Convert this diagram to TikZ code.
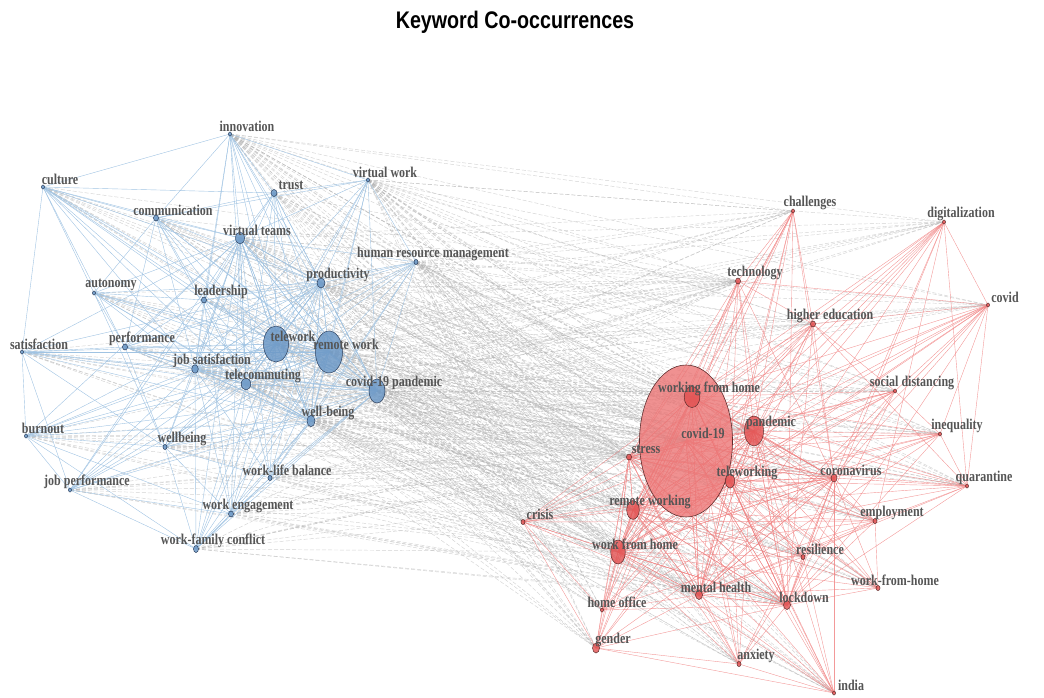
\documentclass[tikz,border=0pt]{standalone}
\usepackage{fontspec}
\setmainfont{Liberation Serif}
\newfontfamily\titlefont{Liberation Sans}
\usepackage{graphicx}
\usepackage{tikz}
\usetikzlibrary{shapes.geometric}
\usetikzlibrary{backgrounds}

\definecolor{bluefill}{RGB}{108,152,198}
\definecolor{bluedark}{RGB}{45,65,95}
\definecolor{redfill}{RGB}{226,80,80}
\definecolor{bigred}{RGB}{236,118,118}
\definecolor{reddark}{RGB}{95,45,45}
\definecolor{blueedge}{RGB}{160,195,226}
\definecolor{rededge}{RGB}{240,128,128}
\definecolor{grayedge}{RGB}{175,175,175}
\definecolor{lblgray}{RGB}{85,85,85}

\newcommand{\kw}[1]{\scalebox{1}[1.25]{#1}}

\begin{document}
\begin{tikzpicture}[x=1pt, y=-1pt,
                          bluenode/.style={ellipse, draw=bluedark, fill=bluefill, fill opacity=0.85, inner sep=0pt, line width=0.5pt},
                          rednode/.style={ellipse, draw=reddark, fill=redfill, fill opacity=0.8, inner sep=0pt, line width=0.5pt},
                          bignode/.style={ellipse, draw=reddark, fill=bigred, fill opacity=0.8, inner sep=0pt, line width=0.6pt},
                          sz/.style 2 args={minimum width=2*#1pt, minimum height=2*#2pt},
                          lbl/.style={font=\bfseries\fontsize{12}{13}\selectfont, text=lblgray, inner sep=0pt, xshift=17pt, yshift=8pt},
                          blueline/.style={blueedge, line width=0.4pt},
                          redline/.style={rededge, line width=0.4pt, draw opacity=0.8},
                          grayline/.style={grayedge, line width=0.45pt, dash pattern=on 4pt off 2pt, draw opacity=0.55},
                      ]
                      \useasboundingbox (0,0) rectangle (1044,697);

                      % Title
                      \node[font=\titlefont\bfseries\fontsize{24}{28}\selectfont] (title) at (515,22) {\scalebox{0.82}[1]{Keyword Co-occurrences}};

                      % Nodes (blue cluster)
                      \node[bluenode, sz={1.5}{2}]     (innovation)        at (230,134) [label={[lbl]center:\kw{innovation}}] {};
                      \node[bluenode, sz={1.5}{2}]     (culture)           at (43,187)  [label={[lbl]center:\kw{culture}}] {};
                      \node[bluenode, sz={3}{3.5}]     (trust)             at (274,193) [label={[lbl]center:\kw{trust}}] {};
                      \node[bluenode, sz={1.5}{2}]     (virtual_work)      at (368,180) [label={[lbl]center:\kw{virtual work}}] {};
                      \node[bluenode, sz={2.5}{3}]     (communication)     at (156,218) [label={[lbl]center:\kw{communication}}] {};
                      \node[bluenode, sz={4.5}{6}]     (virtual_teams)     at (240,238) [label={[lbl]center:\kw{virtual teams}}] {};
                      \node[bluenode, sz={2}{2.5}]     (hrm)               at (416,262) [label={[lbl]center:\kw{human resource management}}] {};
                      \node[bluenode, sz={4}{5}]       (productivity)      at (321,283) [label={[lbl]center:\kw{productivity}}] {};
                      \node[bluenode, sz={1.5}{2}]     (autonomy)          at (94,293)  [label={[lbl]center:\kw{autonomy}}] {};
                      \node[bluenode, sz={2.5}{3}]     (leadership)        at (204,300) [label={[lbl]center:\kw{leadership}}] {};
                      \node[bluenode, sz={2.5}{3}]     (performance)       at (125,347) [label={[lbl]center:\kw{performance}}] {};
                      \node[bluenode, sz={1.5}{2}]     (satisfaction)      at (22,352)  [label={[lbl]center:\kw{satisfaction}}] {};
                      \node[bluenode, sz={12.5}{18}]   (telework)          at (276,344) [label={[lbl]center:\kw{telework}}] {};
                      \node[bluenode, sz={13.5}{21}]   (remote_work)       at (329,352) [label={[lbl]center:\kw{remote work}}] {};
                      \node[bluenode, sz={3.3}{4.2}]   (job_satisfaction)  at (195,369) [label={[lbl]center:\kw{job satisfaction}}] {};
                      \node[bluenode, sz={4.7}{6}]     (telecommuting)     at (246,384) [label={[lbl]center:\kw{telecommuting}}] {};
                      \node[bluenode, sz={8}{12}]      (covid_pandemic)    at (377,391) [label={[lbl]center:\kw{covid-19 pandemic}}] {};
                      \node[bluenode, sz={4}{5.7}]     (well_being)        at (311,421) [label={[lbl]center:\kw{well-being}}] {};
                      \node[bluenode, sz={1.5}{2}]     (burnout)           at (26,436)  [label={[lbl]center:\kw{burnout}}] {};
                      \node[bluenode, sz={2}{2.5}]     (wellbeing)         at (165,447) [label={[lbl]center:\kw{wellbeing}}] {};
                      \node[bluenode, sz={2}{2.5}]     (work_life)         at (270,478) [label={[lbl]center:\kw{work-life balance}}] {};
                      \node[bluenode, sz={1.5}{2}]     (job_performance)   at (70,490)  [label={[lbl]center:\kw{job performance}}] {};
                      \node[bluenode, sz={2.5}{3}]     (work_engagement)   at (231,514) [label={[lbl]center:\kw{work engagement}}] {};
                      \node[bluenode, sz={2.5}{3.5}]   (work_family)       at (196,549) [label={[lbl]center:\kw{work-family conflict}}] {};

                      % Nodes (red cluster)
                      \node[bignode, sz={46.5}{76}]    (covid_19)          at (686,441) {};
                      \node[rednode, sz={1.5}{2}]      (challenges)        at (793,211) [label={[lbl]center:\kw{challenges}}] {};
                      \node[rednode, sz={1.5}{2}]      (digitalization)    at (944,222) [label={[lbl]center:\kw{digitalization}}] {};
                      \node[rednode, sz={2.5}{3}]      (technology)        at (738,281) [label={[lbl]center:\kw{technology}}] {};
                      \node[rednode, sz={1.5}{2}]      (covid)             at (988,305) [label={[lbl]center:\kw{covid}}] {};
                      \node[rednode, sz={2.5}{3}]      (higher_education)  at (813,324) [label={[lbl]center:\kw{higher education}}] {};
                      \node[rednode, sz={7.8}{10.5}]   (working_from_home) at (692,397) [label={[lbl]center:\kw{working from home}}] {};
                      \node[rednode, sz={1.5}{2}]      (social_distancing) at (895,391) [label={[lbl]center:\kw{social distancing}}] {};
                      \node[rednode, sz={9.5}{15}]     (pandemic)          at (754,431) [label={[lbl]center:\kw{pandemic}}] {};
                      \node[rednode, sz={1.5}{2}]      (inequality)        at (940,434) [label={[lbl]center:\kw{inequality}}] {};
                      \node[rednode, sz={2.5}{3}]      (stress)            at (629,457) [label={[lbl]center:\kw{stress}}] {};
                      \node[rednode, sz={4.7}{7}]      (teleworking)       at (730,481) [label={[lbl]center:\kw{teleworking}}] {};
                      \node[rednode, sz={3}{4}]        (coronavirus)       at (834,478) [label={[lbl]center:\kw{coronavirus}}] {};
                      \node[rednode, sz={1.5}{2}]      (quarantine)        at (967,486) [label={[lbl]center:\kw{quarantine}}] {};
                      \node[rednode, sz={6.3}{9.3}]    (remote_working)    at (633,510) [label={[lbl]center:\kw{remote working}}] {};
                      \node[rednode, sz={2}{2.5}]      (crisis)            at (523,522) [label={[lbl]center:\kw{crisis}}] {};
                      \node[rednode, sz={2}{2.5}]      (employment)        at (875,521) [label={[lbl]center:\kw{employment}}] {};
                      \node[rednode, sz={7.3}{12}]     (work_from_home)    at (618,552) [label={[lbl]center:\kw{work from home}}] {};
                      \node[rednode, sz={2}{2.5}]      (resilience)        at (803,557) [label={[lbl]center:\kw{resilience}}] {};
                      \node[rednode, sz={2}{2.5}]      (wfh_hyphen)        at (878,588) [label={[lbl]center:\kw{work-from-home}}] {};
                      \node[rednode, sz={3.5}{4.5}]    (mental_health)     at (699,595) [label={[lbl]center:\kw{mental health}}] {};
                      \node[rednode, sz={3.5}{4.5}]    (lockdown)          at (787,605) [label={[lbl]center:\kw{lockdown}}] {};
                      \node[rednode, sz={1.5}{2}]      (home_office)       at (602,610) [label={[lbl, xshift=-2pt]center:\kw{home office}}] {};
                      \node[rednode, sz={3.5}{5}]      (gender)            at (596,648) [label={[lbl]center:\kw{gender}}] {};
                      \node[rednode, sz={2}{2.5}]      (anxiety)           at (739,664) [label={[lbl]center:\kw{anxiety}}] {};
                      \node[rednode, sz={1.5}{2}]      (india)             at (834,693) [label={[lbl]center:\kw{india}}] {};
                      \node[lbl] (covid_19_label) at (covid_19.center) {\kw{covid-19}};

                      %Lines
                      \begin{pgfonlayer}{background}
                      % between the clusters
                      \foreach \a in {innovation,culture,trust,virtual_work,communication,virtual_teams,hrm,productivity,autonomy,leadership,performance,satisfaction,telework,remote_work,job_satisfaction,telecommuting,covid_pandemic,well_being,burnout,wellbeing,work_life,job_performance,work_engagement,work_family}
                        \foreach \b in {covid_19,working_from_home,pandemic,teleworking,remote_working,work_from_home,stress,lockdown,mental_health,technology}
                          \draw[grayline] (\a.center) -- (\b.center);
                      \foreach \a in {innovation,virtual_work,virtual_teams,hrm,productivity,telework,remote_work,telecommuting,covid_pandemic,well_being,job_satisfaction}
                        \foreach \b in {challenges,digitalization,covid,higher_education,social_distancing,inequality,coronavirus,quarantine,crisis,employment,resilience,wfh_hyphen,home_office,gender,anxiety,india}
                          \draw[grayline] (\a.center) -- (\b.center);

                      % blue cluster
                      \foreach \a in {innovation,culture,trust,virtual_work,communication,virtual_teams,hrm,productivity,autonomy,leadership,performance,satisfaction,telework,remote_work,job_satisfaction,telecommuting,covid_pandemic,well_being,burnout,wellbeing,work_life,job_performance,work_engagement,work_family}
                        \foreach \b in {telework,remote_work,covid_pandemic,virtual_teams,telecommuting,job_satisfaction,productivity,well_being}
                          \draw[blueline] (\a.center) -- (\b.center);
                      \foreach \a/\b in {innovation/culture,innovation/trust,innovation/virtual_work,innovation/communication,innovation/leadership,
                                         culture/trust,culture/communication,culture/autonomy,culture/satisfaction,culture/performance,culture/leadership,
                                         trust/virtual_work,trust/communication,trust/leadership,virtual_work/hrm,virtual_work/communication,
                                         communication/leadership,communication/performance,communication/autonomy,autonomy/performance,autonomy/leadership,
                                         autonomy/wellbeing,leadership/performance,performance/satisfaction,satisfaction/burnout,satisfaction/job_performance,
                                         satisfaction/wellbeing,burnout/job_performance,burnout/wellbeing,burnout/work_family,burnout/work_engagement,
                                         wellbeing/work_life,wellbeing/work_engagement,wellbeing/work_family,job_performance/work_family,
                                         job_performance/work_engagement,work_engagement/work_family,work_life/work_family,work_life/work_engagement,
                                         hrm/work_life,hrm/leadership,hrm/performance,performance/wellbeing,leadership/work_engagement,job_performance/leadership}
                        \draw[blueline] (\a.center) -- (\b.center);

                      % red cluster
                      \foreach \a in {challenges,digitalization,technology,covid,higher_education,working_from_home,social_distancing,covid_19,pandemic,inequality,stress,teleworking,coronavirus,quarantine,remote_working,crisis,employment,work_from_home,resilience,wfh_hyphen,mental_health,lockdown,home_office,gender,anxiety,india}
                        \foreach \b in {covid_19,working_from_home,pandemic,teleworking,remote_working,work_from_home,lockdown,mental_health,coronavirus,stress}
                          \draw[redline] (\a.center) -- (\b.center);
                      \foreach \a/\b in {technology/covid,technology/challenges,technology/higher_education,challenges/higher_education,
                                         digitalization/covid,digitalization/employment,digitalization/quarantine,covid/quarantine,covid/inequality,
                                         covid/social_distancing,covid/higher_education,inequality/quarantine,inequality/social_distancing,
                                         quarantine/employment,employment/wfh_hyphen,resilience/employment,india/gender,india/anxiety,gender/anxiety,
                                         gender/home_office,gender/crisis,crisis/home_office,crisis/employment,india/resilience,anxiety/resilience,
                                         home_office/employment,higher_education/social_distancing,higher_education/quarantine}
                        \draw[redline] (\a.center) -- (\b.center);
                      \end{pgfonlayer}
                  \end{tikzpicture}
\end{document}
